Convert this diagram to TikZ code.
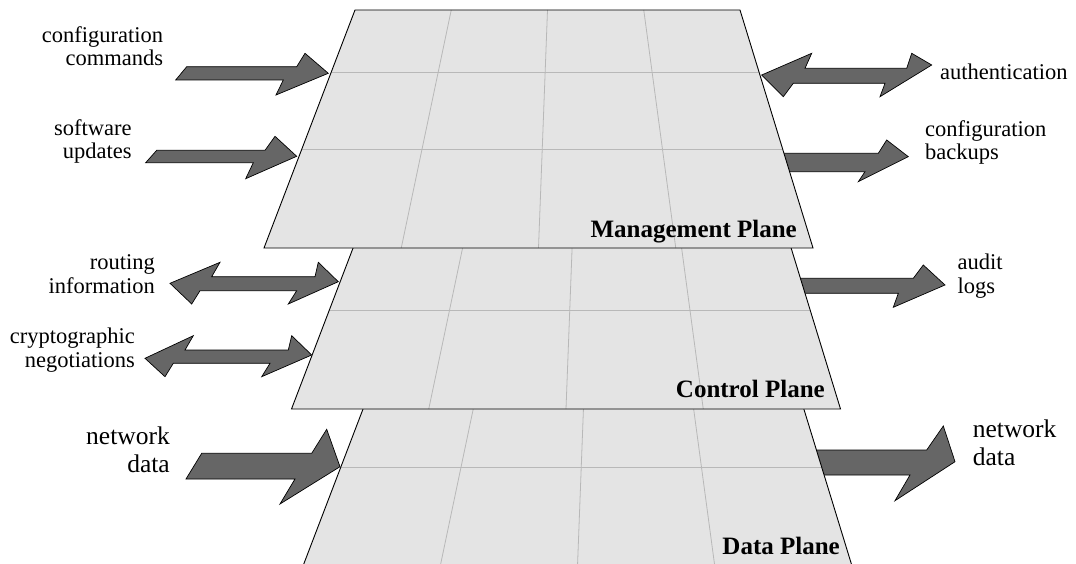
\documentclass[tikz,border=0pt]{standalone}
\usepackage{fontspec}
\setmainfont{Liberation Serif}
\definecolor{planefill}{HTML}{E4E4E4}
\definecolor{gridcol}{HTML}{B8B8B8}
\definecolor{arrowfill}{HTML}{666666}
\tikzset{
  planebody/.style={fill=planefill},
  planeedge/.style={draw=black, line width=0.9pt, line join=miter},
  gridline/.style={draw=gridcol, line width=0.8pt},
  blockarrow/.style={fill=arrowfill, draw=black, line width=0.7pt, line join=miter},
  lbl/.style={font=\fontsize{22.5}{23.5}\selectfont, inner sep=0pt},
  biglbl/.style={font=\fontsize{25.5}{28}\selectfont, inner sep=0pt},
  planelbl/.style={font=\bfseries\fontsize{25}{28}\selectfont, inner sep=0pt, anchor=base east},
}
\newcommand\drawplane[3]{%
  \begin{scope}[shift={(#1,#2)}]
    \path[planebody] (355,10) -- (740,10) -- (813,248) -- (264,248) -- cycle;
    \draw[gridline] (331.29,72) -- (759.02,72);
    \draw[gridline] (301.85,149) -- (782.64,149);
    \draw[gridline] (451.25,10) -- (401.25,248);
    \draw[gridline] (547.5,10) -- (538.5,248);
    \draw[gridline] (643.75,10) -- (675.75,248);
    \draw[planeedge] (355,10) coordinate (#3-tl) -- (740,10) coordinate (#3-tr)
      -- (813,248) coordinate (#3-br) -- (264,248) coordinate (#3-bl) -- cycle;
  \end{scope}}
\begin{document}
\begin{tikzpicture}[x=1pt,y=-1pt]
\useasboundingbox (0,0) rectangle (1076,564);
\fill[white] (0,0) rectangle (1076,564);
\clip (0,0) rectangle (1076,564);
% data plane arrows
\path[blockarrow] (186,479) -- (201.7,453.3) -- (311.7,453.3) -- (326.7,429.3) -- (340,466.7) -- (280,504) -- (295,479) -- cycle;
\path[blockarrow] (808,450) -- (926.7,450) -- (943.3,426) -- (955,461.7) -- (895,500.7) -- (910,475) -- (815,475) -- cycle;
\drawplane{39}{318}{data}
% control plane arrows
\path[blockarrow] (170,283.3) -- (220,262.3) -- (211.7,276.7) -- (315,276.7) -- (318.3,262.3) -- (338.3,281.7) -- (288.3,304) -- (296.7,290.7) -- (200,290.7) -- (191.7,304) -- cycle;
\path[blockarrow] (145,358.3) -- (193.3,335.7) -- (185,350) -- (288.3,350) -- (291.7,335.7) -- (311.7,355) -- (261.7,376.7) -- (270,363.3) -- (173.3,363.3) -- (165,376.7) -- cycle;
\path[blockarrow] (792,278.3) -- (913.3,278.3) -- (923.3,265) -- (945,285) -- (893.3,307.3) -- (898.3,293.3) -- (797,293.3) -- cycle;
\drawplane{27.5}{161}{ctrl}
% management plane arrows
\path[blockarrow] (175.7,80) -- (186.7,66.7) -- (296.7,66.7) -- (305,53.3) -- (328.3,73.3) -- (276,95) -- (283.3,80) -- cycle;
\path[blockarrow] (145.7,162.7) -- (156.7,150.3) -- (265,150.3) -- (275,136.3) -- (296.7,156.3) -- (245.7,178.7) -- (253.3,162.7) -- cycle;
\path[blockarrow] (761.7,75) -- (811.7,53.3) -- (805,68.3) -- (906.7,68.3) -- (911.7,53.3) -- (931.7,65) -- (880,96.7) -- (885,83.3) -- (793.3,83.3) -- (783.3,96.7) -- cycle;
\path[blockarrow] (775,153.3) -- (878.3,153.3) -- (886.7,140) -- (908.3,156.7) -- (858.3,181.7) -- (865,171.7) -- (780,171.7) -- cycle;
\drawplane{0}{0}{mgmt}
% labels
\node[lbl, align=right, anchor=base east] (cfgcmd) at (163.3,66) {configuration\\commands};
\node[lbl, align=right, anchor=base east] (swupd) at (131.7,159) {software\\updates};
\node[lbl, align=left, anchor=base west] (auth) at (940,80) {authentication};
\node[lbl, align=left, anchor=base west] (cfgbak) at (925,160) {configuration\\backups};
\node[lbl, align=left, anchor=base west] (audit) at (957.3,293) {audit\\logs};
\node[lbl, align=right, anchor=base east] (routing) at (155,293) {routing\\information};
\node[lbl, align=right, anchor=base east] (crypto) at (135,367) {cryptographic\\negotiations};
\node[biglbl, align=right, anchor=base east] (ndin) at (170,472) {network\\data};
\node[biglbl, align=left, anchor=base west] (ndout) at (972.7,465) {network\\data};
\node[planelbl] (mgmtlbl) at (797,237) {Management Plane};
\node[planelbl] (ctrllbl) at (825,397) {Control Plane};
\node[planelbl] (datalbl) at (840,554) {Data Plane};
\end{tikzpicture}
\end{document}
